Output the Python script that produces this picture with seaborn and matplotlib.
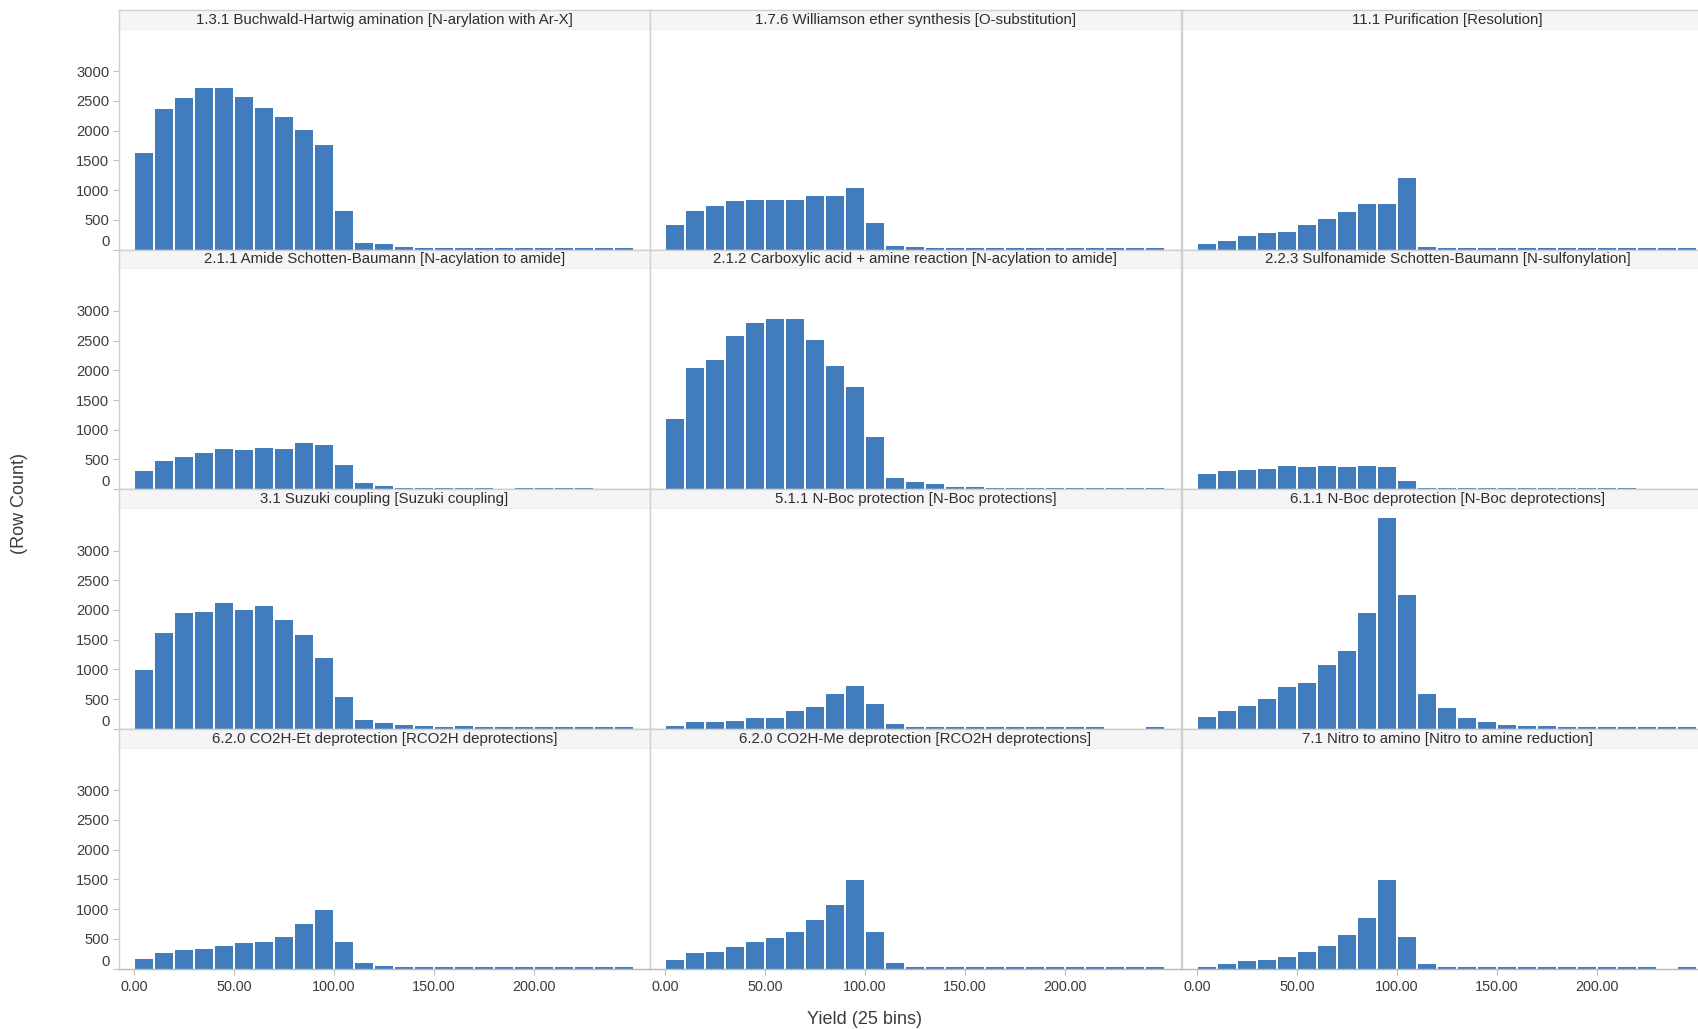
import numpy as np
import pandas as pd
import matplotlib
matplotlib.use("Agg")
import matplotlib.pyplot as plt
import seaborn as sns

sns.set_theme(style="white")
plt.rcParams["font.family"] = ["Liberation Sans", "DejaVu Sans"]

# ---- data: row counts per yield bin (25 bins of width 10, 0..250) ----
BIN_WIDTH = 10
bin_left = np.arange(0, 250, BIN_WIDTH)

reactions = [
    "1.3.1 Buchwald-Hartwig amination [N-arylation with Ar-X]",
    "1.7.6 Williamson ether synthesis [O-substitution]",
    "11.1 Purification [Resolution]",
    "2.1.1 Amide Schotten-Baumann [N-acylation to amide]",
    "2.1.2 Carboxylic acid + amine reaction [N-acylation to amide]",
    "2.2.3 Sulfonamide Schotten-Baumann [N-sulfonylation]",
    "3.1 Suzuki coupling [Suzuki coupling]",
    "5.1.1 N-Boc protection [N-Boc protections]",
    "6.1.1 N-Boc deprotection [N-Boc deprotections]",
    "6.2.0 CO2H-Et deprotection [RCO2H deprotections]",
    "6.2.0 CO2H-Me deprotection [RCO2H deprotections]",
    "7.1 Nitro to amino [Nitro to amine reduction]",
]

buchwald = [1624, 2371, 2551, 2719, 2719, 2573, 2388, 2230, 2017, 1764, 646, 112, 90, 45,
            25, 25, 25, 24, 24, 24, 24, 23, 23, 23, 23]
williamson = [416, 646, 736, 809, 831, 831, 831, 904, 904, 1039, 438, 62, 39, 25,
              25, 25, 24, 24, 24, 24, 23, 23, 23, 23, 23]
purification = [90, 135, 230, 275, 298, 410, 506, 624, 764, 764, 1202, 39, 24, 24,
                24, 24, 24, 23, 23, 23, 23, 23, 23, 23, 23]
amide_sb = [303, 466, 534, 601, 674, 652, 697, 674, 770, 747, 399, 96, 51, 25,
            25, 25, 25, 25, 0, 25, 25, 25, 25, 0, 0]
carboxylic = [1180, 2045, 2180, 2574, 2787, 2855, 2855, 2506, 2068, 1720, 882, 185, 118, 90,
              45, 45, 25, 25, 25, 25, 25, 24, 24, 24, 24]
sulfonamide = [253, 298, 320, 343, 388, 365, 388, 365, 388, 365, 140, 25, 25, 25,
               25, 25, 25, 24, 24, 24, 24, 24, 0, 0, 0]
suzuki = [983, 1607, 1950, 1972, 2113, 2000, 2068, 1837, 1584, 1185, 534, 146, 96, 73,
          51, 28, 51, 25, 25, 25, 25, 25, 24, 24, 24]
boc_prot = [51, 118, 118, 140, 185, 185, 303, 371, 579, 719, 416, 90, 25, 25,
            25, 25, 24, 24, 24, 24, 24, 24, 0, 0, 24]
boc_deprot = [208, 303, 393, 511, 697, 770, 1073, 1304, 1950, 3540, 2254, 584, 348, 185,
              118, 73, 45, 45, 28, 28, 25, 25, 25, 25, 25]
et_deprot = [169, 264, 309, 331, 376, 427, 450, 539, 747, 983, 450, 96, 51, 25,
             25, 25, 25, 25, 25, 24, 24, 24, 24, 24, 24]
me_deprot = [146, 264, 287, 360, 450, 517, 612, 820, 1073, 1495, 612, 96, 25, 25,
             25, 25, 25, 25, 24, 24, 24, 24, 24, 24, 24]
nitro = [28, 73, 124, 146, 191, 287, 376, 562, 843, 1495, 539, 73, 25, 25,
         25, 25, 25, 24, 24, 24, 24, 24, 24, 0, 24]

series = [buchwald, williamson, purification, amide_sb, carboxylic, sulfonamide,
          suzuki, boc_prot, boc_deprot, et_deprot, me_deprot, nitro]

yticks = [0, 500, 1000, 1500, 2000, 2500, 3000]
xticks = [0, 50, 100, 150, 200]
xtick_labels = ["0.00", "50.00", "100.00", "150.00", "200.00"]

df = pd.concat(
    [pd.DataFrame({"reaction": name,
                   "yield_mid": bin_left + BIN_WIDTH / 2,
                   "rows": np.asarray(counts, dtype=float)})
     for name, counts in zip(reactions, series)],
    ignore_index=True,
)

# ---- layout (pixel based) ----
W, H = 1699, 1029
fig = plt.figure(figsize=(W / 100, H / 100), dpi=100)
fig.patch.set_facecolor("white")

col_x = [119, 650, 1182]
PW = 531
HEAD_H = 19.5
PLOT_H = 220
ROW_PITCH = 239.7
TOP0 = 10

BAR = "#417cbc"
BORDER = "#d0d0d0"
TEXT = "#2e2e2e"
TICKTXT = "#3c3c3c"


def frac(x, y, w, h):
    return [x / W, 1 - (y + h) / H, w / W, h / H]


for i, name in enumerate(reactions):
    r, c = divmod(i, 3)
    x0 = col_x[c]
    htop = TOP0 + r * ROW_PITCH
    ptop = htop + HEAD_H

    # header strip
    hax = fig.add_axes(frac(x0, htop, PW, HEAD_H))
    hax.set_facecolor("#f5f5f5")
    hax.set_xticks([])
    hax.set_yticks([])
    for s in hax.spines.values():
        s.set_color(BORDER)
        s.set_linewidth(1)
    hax.text(0.5, 0.5, name, ha="center", va="center", fontsize=10.8,
             color=TEXT, transform=hax.transAxes)

    # histogram panel
    ax = fig.add_axes(frac(x0, ptop, PW, PLOT_H))
    sub = df[df["reaction"] == name]
    sns.histplot(data=sub, x="yield_mid", weights="rows",
                 binwidth=BIN_WIDTH, binrange=(0, 250),
                 stat="count", color=BAR, alpha=1, shrink=0.92,
                 linewidth=0, ax=ax)
    ax.set_xlim(-7.5, 258)
    ax.set_ylim(0, 3700)
    ax.set_xlabel("")
    ax.set_ylabel("")
    ax.spines["top"].set_visible(False)
    for side in ("left", "right"):
        ax.spines[side].set_color(BORDER)
        ax.spines[side].set_linewidth(1)
    ax.spines["bottom"].set_color("#b8b8b8")
    ax.spines["bottom"].set_linewidth(1)

    if c == 0:
        ax.set_yticks(yticks)
        ax.set_yticklabels([str(v) for v in yticks])
        ax.tick_params(axis="y", left=True, length=4, width=0.8, color="#c0c0c0",
                       labelsize=10.6, labelcolor=TICKTXT, pad=3)
        ax.get_yticklabels()[0].set_verticalalignment("bottom")
    else:
        ax.set_yticks([])

    if r == 3:
        ax.set_xticks(xticks)
        ax.set_xticklabels(xtick_labels)
        ax.tick_params(axis="x", bottom=True, length=4, width=0.8, color="#c0c0c0",
                       labelsize=10.4, labelcolor=TICKTXT, pad=4)
    else:
        ax.set_xticks([])

fig.text(20 / W, 1 - 503 / H, "(Row Count)", rotation=90, ha="center", va="center",
         fontsize=13, color=TICKTXT)
fig.text(865 / W, 1 - 1019 / H, "Yield (25 bins)", ha="center", va="center",
         fontsize=13, color=TICKTXT)

fig.savefig("out.png", dpi=100, facecolor="white")
